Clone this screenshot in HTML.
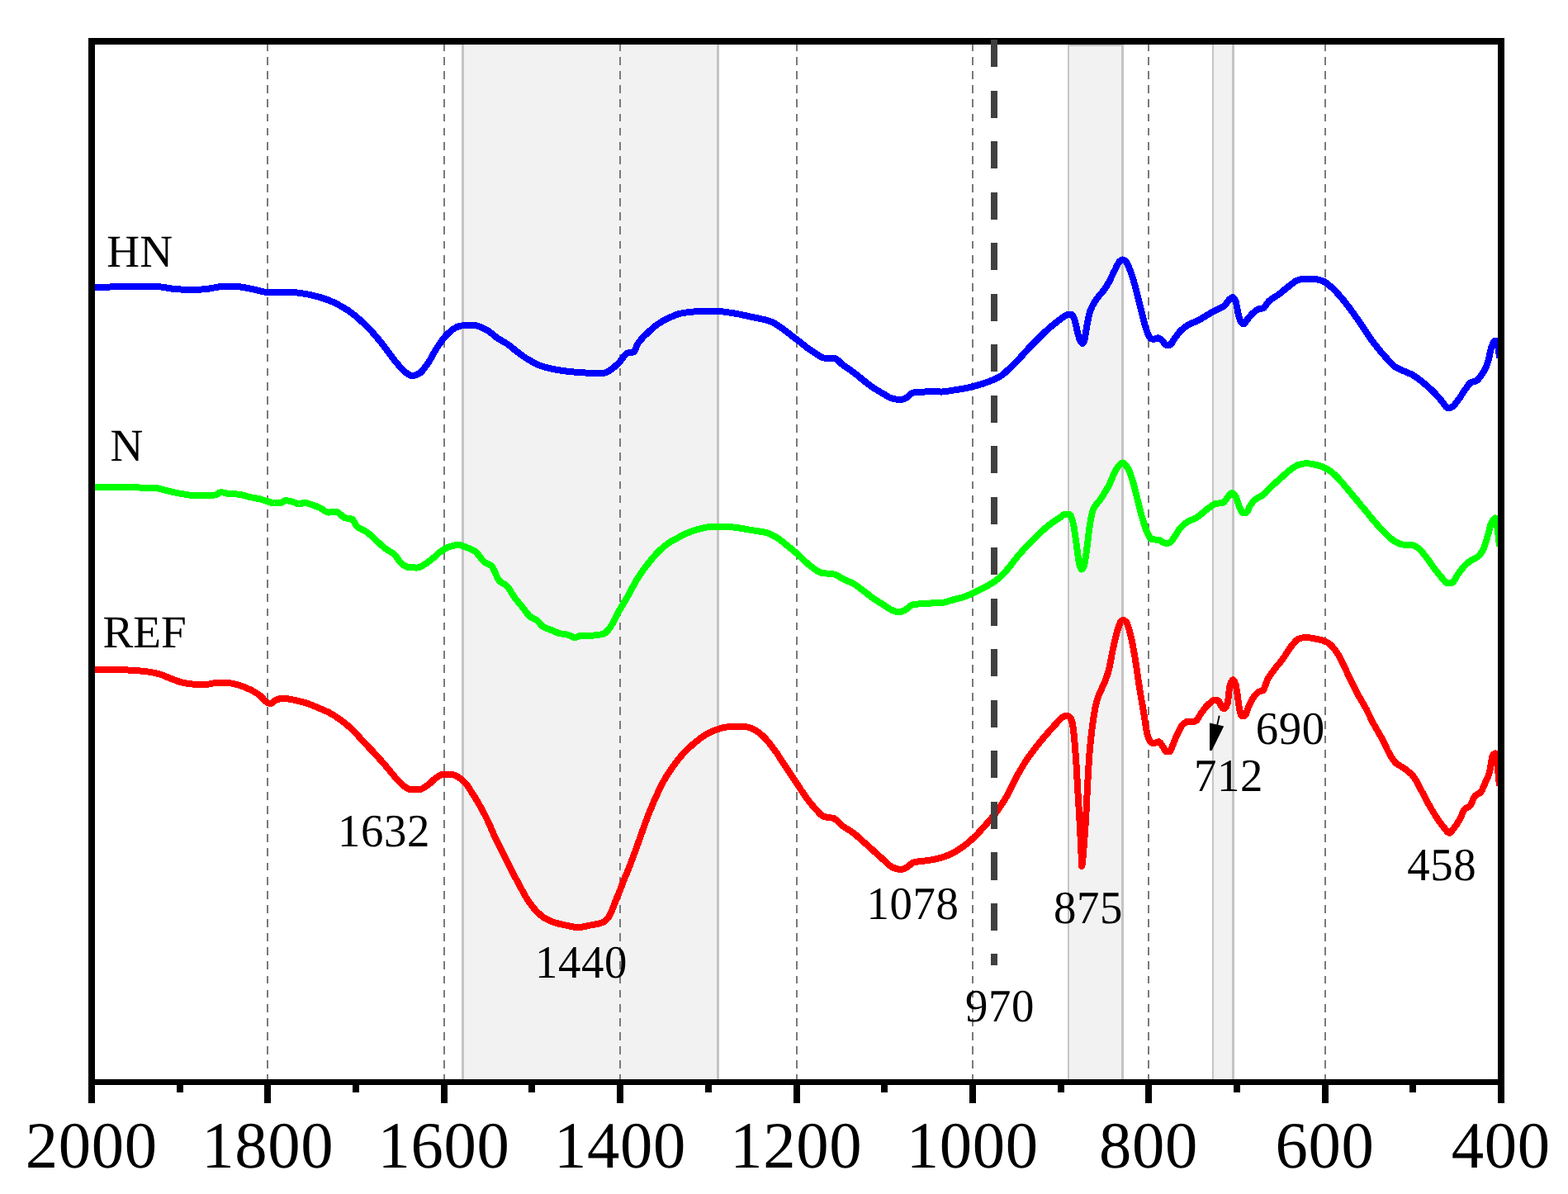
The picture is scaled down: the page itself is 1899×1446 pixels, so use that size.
<!DOCTYPE html>
<html lang="en"><head><meta charset="utf-8"><title>FTIR spectra</title>
<style>
html,body{margin:0;padding:0;background:#fff;}
body{width:1899px;height:1446px;overflow:hidden;}
svg{display:block;}
text{font-family:"Liberation Serif","Times New Roman",Times,serif;fill:#000;text-rendering:geometricPrecision;}
.tick{font-size:78.7px;letter-spacing:0.65px;}
.lab{font-size:54.8px;}
.num{letter-spacing:0.6px;}
</style></head><body>
<svg width="1899" height="1446" viewBox="0 0 1899 1446">
<rect x="0" y="0" width="1899" height="1446" fill="#fff"/>
<defs><clipPath id="plot"><rect x="111" y="50" width="1705" height="1260"/></clipPath></defs>

<g shape-rendering="crispEdges">
<rect x="562" y="55" width="306" height="1251" fill="#f2f2f2"/>
<rect x="559" y="54" width="3" height="1256" fill="#c4c4c4"/>
<rect x="868" y="54" width="3" height="1256" fill="#c4c4c4"/>
<rect x="1295" y="56" width="63" height="1250" fill="#f2f2f2"/>
<rect x="1293" y="54" width="2" height="1256" fill="#c4c4c4"/>
<rect x="1358" y="54" width="3" height="1256" fill="#c4c4c4"/>
<rect x="1293" y="54" width="68" height="2" fill="#c4c4c4"/>
<rect x="1470" y="55" width="22" height="1251" fill="#f2f2f2"/>
<rect x="1468" y="54" width="2" height="1256" fill="#c4c4c4"/>
<rect x="1492" y="54" width="3" height="1256" fill="#c4c4c4"/>
</g>
<g stroke="#7a7a7a" stroke-width="2" stroke-dasharray="9.8 7.314" fill="none" shape-rendering="crispEdges">
<line x1="324" y1="52" x2="324" y2="1308"/>
<line x1="538" y1="52" x2="538" y2="1308"/>
<line x1="751" y1="52" x2="751" y2="1308"/>
<line x1="965" y1="52" x2="965" y2="1308"/>
<line x1="1178" y1="52" x2="1178" y2="1308"/>
<line x1="1391" y1="52" x2="1391" y2="1308"/>
<line x1="1605" y1="52" x2="1605" y2="1308"/>
</g>
<g clip-path="url(#plot)" fill="none" stroke-width="8" stroke-linejoin="round" stroke-linecap="butt" shape-rendering="crispEdges">
<path d="M111.0,348.0 L113.0,348.0 L115.0,348.0 L117.0,348.0 L119.0,348.0 L121.0,347.9 L123.0,347.9 L125.0,347.8 L127.0,347.7 L129.0,347.6 L131.0,347.6 L133.0,347.5 L135.0,347.4 L137.0,347.3 L139.0,347.2 L141.0,347.2 L143.0,347.1 L145.0,347.1 L147.0,347.0 L149.0,347.0 L150.0,347.0 L151.0,347.0 L153.0,347.0 L155.0,347.0 L157.0,347.0 L159.0,347.0 L161.0,347.0 L163.0,347.0 L165.0,347.0 L167.0,347.0 L169.0,347.0 L171.0,347.0 L173.0,347.0 L175.0,347.0 L177.0,347.0 L179.0,347.0 L181.0,347.0 L183.0,347.0 L185.0,347.0 L187.0,347.0 L187.5,347.0 L189.0,347.0 L191.0,347.1 L193.0,347.3 L195.0,347.5 L197.0,347.8 L199.0,348.1 L201.0,348.4 L203.0,348.8 L205.0,349.1 L207.0,349.4 L209.0,349.7 L211.0,349.9 L212.5,350.0 L213.0,350.0 L215.0,350.2 L217.0,350.3 L219.0,350.5 L221.0,350.6 L223.0,350.7 L225.0,350.8 L227.0,350.9 L229.0,351.0 L231.0,351.0 L232.5,351.0 L233.0,351.0 L235.0,351.0 L237.0,350.9 L239.0,350.8 L241.0,350.7 L243.0,350.6 L245.0,350.4 L247.0,350.2 L249.0,350.1 L250.0,350.0 L251.0,349.9 L253.0,349.6 L255.0,349.3 L257.0,348.9 L259.0,348.5 L261.0,348.1 L263.0,347.7 L265.0,347.4 L267.0,347.2 L269.0,347.0 L270.0,347.0 L271.0,347.0 L273.0,347.0 L275.0,347.0 L277.0,347.0 L279.0,347.0 L281.0,347.0 L283.0,347.0 L285.0,347.0 L287.0,347.0 L289.0,347.2 L291.0,347.4 L293.0,347.7 L295.0,348.0 L297.0,348.4 L299.0,348.8 L301.0,349.2 L303.0,349.6 L305.0,350.0 L307.0,350.4 L307.5,350.5 L309.0,350.8 L311.0,351.3 L313.0,351.8 L315.0,352.3 L317.0,352.8 L319.0,353.3 L321.0,353.7 L323.0,353.9 L325.0,354.0 L327.0,354.0 L329.0,354.0 L331.0,354.0 L333.0,353.9 L335.0,353.9 L337.0,353.9 L339.0,353.9 L341.0,353.8 L343.0,353.8 L345.0,353.8 L347.0,353.8 L349.0,353.8 L350.0,353.8 L351.0,353.8 L353.0,353.8 L355.0,354.0 L357.0,354.1 L359.0,354.4 L361.0,354.6 L363.0,354.9 L365.0,355.2 L367.0,355.5 L369.0,355.8 L370.0,356.0 L371.0,356.2 L373.0,356.5 L375.0,356.9 L377.0,357.3 L379.0,357.8 L381.0,358.3 L383.0,358.8 L385.0,359.4 L387.0,359.9 L389.0,360.5 L391.0,361.2 L393.0,361.8 L395.0,362.5 L397.0,363.2 L399.0,364.0 L401.0,364.8 L403.0,365.7 L405.0,366.6 L407.0,367.6 L409.0,368.6 L411.0,369.7 L413.0,370.8 L415.0,372.0 L417.0,373.2 L419.0,374.4 L420.0,375.0 L421.0,375.6 L423.0,377.0 L425.0,378.4 L427.0,379.9 L429.0,381.5 L431.0,383.1 L433.0,384.8 L435.0,386.6 L437.0,388.4 L439.0,390.3 L441.0,392.1 L443.0,394.1 L445.0,396.0 L447.0,398.0 L449.0,400.1 L451.0,402.3 L453.0,404.6 L455.0,406.9 L457.0,409.3 L459.0,411.7 L461.0,414.2 L462.5,416.0 L463.0,416.6 L465.0,419.2 L467.0,421.8 L469.0,424.5 L471.0,427.2 L473.0,430.0 L475.0,432.7 L477.0,435.3 L479.0,437.8 L480.0,439.0 L481.0,440.2 L483.0,442.7 L485.0,445.1 L487.0,447.3 L489.0,449.2 L490.0,450.0 L491.0,450.8 L493.0,452.3 L495.0,453.7 L497.0,454.7 L498.8,455.0 L499.0,455.0 L501.0,454.8 L503.0,454.3 L505.0,453.6 L507.0,452.7 L507.5,452.5 L509.0,451.6 L511.0,449.7 L513.0,447.2 L515.0,444.5 L517.0,441.7 L517.5,441.0 L519.0,438.8 L521.0,435.5 L523.0,432.0 L525.0,428.4 L527.0,424.8 L529.0,421.5 L530.0,420.0 L531.0,418.5 L533.0,415.6 L535.0,412.8 L537.0,410.1 L539.0,407.6 L541.0,405.4 L542.5,404.0 L543.0,403.6 L545.0,401.8 L547.0,400.1 L549.0,398.6 L551.0,397.3 L553.0,396.2 L555.0,395.5 L557.0,395.0 L559.0,394.5 L561.0,394.1 L563.0,393.8 L565.0,393.6 L567.0,393.5 L567.5,393.5 L569.0,393.5 L571.0,393.6 L573.0,393.8 L575.0,394.0 L577.0,394.3 L579.0,394.9 L581.0,395.6 L583.0,396.4 L585.0,397.4 L587.0,398.4 L589.0,399.5 L590.0,400.0 L591.0,400.6 L593.0,401.9 L595.0,403.5 L597.0,405.2 L599.0,406.8 L601.0,408.4 L602.5,409.5 L603.0,409.8 L605.0,411.1 L607.0,412.2 L609.0,413.4 L611.0,414.5 L613.0,415.7 L615.0,417.0 L617.0,418.5 L619.0,420.0 L621.0,421.7 L623.0,423.4 L625.0,425.1 L627.0,426.6 L627.5,427.0 L629.0,428.1 L631.0,429.6 L633.0,431.0 L635.0,432.3 L637.0,433.7 L639.0,434.9 L640.0,435.5 L641.0,436.1 L643.0,437.2 L645.0,438.4 L647.0,439.4 L649.0,440.5 L651.0,441.4 L653.0,442.3 L655.0,443.0 L657.0,443.7 L659.0,444.3 L661.0,444.9 L663.0,445.4 L665.0,445.9 L667.0,446.4 L669.0,446.8 L671.0,447.2 L672.5,447.5 L673.0,447.6 L675.0,447.9 L677.0,448.3 L679.0,448.6 L681.0,448.9 L683.0,449.2 L685.0,449.4 L687.0,449.7 L689.0,449.9 L690.0,450.0 L691.0,450.1 L693.0,450.3 L695.0,450.5 L697.0,450.7 L699.0,450.9 L701.0,451.1 L703.0,451.2 L705.0,451.4 L707.0,451.4 L709.0,451.5 L710.0,451.5 L711.0,451.5 L713.0,451.5 L715.0,451.5 L717.0,451.5 L719.0,451.5 L721.0,451.5 L723.0,451.5 L725.0,451.5 L727.0,451.5 L729.0,451.5 L731.0,451.5 L732.5,451.5 L733.0,451.5 L735.0,450.8 L737.0,449.6 L739.0,448.2 L740.0,447.5 L741.0,446.8 L743.0,445.3 L745.0,443.5 L747.0,441.7 L749.0,439.7 L750.0,438.8 L751.0,437.7 L753.0,435.0 L755.0,432.2 L757.0,429.7 L759.0,428.0 L760.0,427.5 L761.0,427.3 L763.0,427.0 L765.0,426.8 L767.0,426.4 L767.5,426.2 L769.0,424.3 L771.0,419.4 L772.5,416.2 L773.0,415.5 L775.0,412.8 L777.0,410.4 L779.0,408.3 L781.0,406.3 L783.0,404.4 L785.0,402.5 L787.0,400.6 L789.0,398.8 L791.0,397.0 L793.0,395.4 L795.0,393.8 L797.0,392.3 L797.5,392.0 L799.0,391.0 L801.0,389.8 L803.0,388.6 L805.0,387.5 L807.0,386.4 L809.0,385.5 L810.0,385.0 L811.0,384.6 L813.0,383.7 L815.0,382.8 L817.0,382.0 L819.0,381.2 L821.0,380.5 L823.0,380.0 L825.0,379.5 L827.0,379.1 L829.0,378.8 L831.0,378.5 L833.0,378.2 L835.0,378.0 L837.0,377.8 L839.0,377.6 L840.0,377.5 L841.0,377.4 L843.0,377.2 L845.0,377.0 L847.0,376.9 L849.0,376.7 L851.0,376.6 L853.0,376.5 L855.0,376.5 L857.0,376.5 L859.0,376.5 L861.0,376.6 L863.0,376.7 L865.0,376.8 L867.0,376.8 L869.0,376.9 L870.0,377.0 L871.0,377.1 L873.0,377.2 L875.0,377.4 L877.0,377.6 L879.0,377.9 L881.0,378.2 L883.0,378.5 L885.0,378.8 L887.0,379.1 L889.0,379.4 L891.0,379.7 L893.0,380.1 L895.0,380.5 L897.0,380.9 L899.0,381.3 L901.0,381.8 L903.0,382.2 L905.0,382.6 L907.0,383.1 L909.0,383.5 L910.0,383.8 L911.0,384.0 L913.0,384.4 L915.0,384.8 L917.0,385.2 L919.0,385.6 L921.0,386.1 L923.0,386.5 L925.0,387.0 L927.0,387.5 L929.0,388.0 L931.0,388.6 L933.0,389.3 L935.0,390.0 L937.0,390.9 L939.0,392.1 L941.0,393.4 L943.0,394.9 L945.0,396.2 L947.0,397.6 L949.0,399.1 L951.0,400.5 L953.0,402.0 L955.0,403.6 L957.0,405.1 L959.0,406.7 L961.0,408.2 L963.0,409.7 L965.0,411.2 L967.0,412.8 L969.0,414.3 L971.0,415.9 L973.0,417.5 L975.0,419.1 L977.0,420.7 L979.0,422.2 L981.0,423.6 L983.0,425.0 L985.0,426.2 L987.0,427.5 L989.0,428.8 L991.0,430.2 L993.0,431.4 L995.0,432.5 L997.0,433.3 L999.0,433.7 L1000.0,433.8 L1001.0,433.8 L1003.0,433.8 L1005.0,433.8 L1007.0,433.8 L1009.0,433.8 L1010.0,433.8 L1011.0,433.9 L1013.0,434.9 L1015.0,436.6 L1017.0,438.6 L1019.0,440.5 L1020.0,441.2 L1021.0,442.0 L1023.0,443.4 L1025.0,444.7 L1027.0,446.1 L1029.0,447.5 L1031.0,448.9 L1032.5,450.0 L1033.0,450.4 L1035.0,451.9 L1037.0,453.5 L1039.0,455.2 L1041.0,456.8 L1043.0,458.4 L1045.0,460.0 L1047.0,461.6 L1049.0,463.2 L1051.0,464.7 L1053.0,466.3 L1055.0,467.8 L1057.0,469.2 L1057.5,469.5 L1059.0,470.5 L1061.0,471.7 L1063.0,473.0 L1065.0,474.1 L1067.0,475.3 L1069.0,476.4 L1070.0,477.0 L1071.0,477.6 L1073.0,478.9 L1075.0,480.2 L1077.0,481.3 L1079.0,482.2 L1080.0,482.5 L1081.0,482.7 L1083.0,483.2 L1085.0,483.5 L1087.0,483.8 L1089.0,484.0 L1090.0,484.0 L1091.0,483.9 L1093.0,483.6 L1095.0,483.0 L1097.0,482.2 L1097.5,482.0 L1099.0,481.1 L1101.0,479.2 L1103.0,477.3 L1105.0,475.8 L1106.0,475.5 L1107.0,475.4 L1109.0,475.2 L1111.0,475.0 L1113.0,474.9 L1115.0,474.8 L1117.0,474.7 L1119.0,474.6 L1120.0,474.5 L1121.0,474.4 L1123.0,474.2 L1125.0,474.0 L1127.0,473.9 L1129.0,473.8 L1130.0,473.8 L1131.0,473.8 L1133.0,473.9 L1135.0,474.1 L1137.0,474.3 L1139.0,474.5 L1140.0,474.5 L1141.0,474.5 L1143.0,474.4 L1145.0,474.1 L1147.0,473.9 L1149.0,473.5 L1151.0,473.2 L1153.0,472.8 L1155.0,472.5 L1157.0,472.2 L1159.0,471.9 L1161.0,471.6 L1163.0,471.3 L1165.0,470.9 L1167.0,470.6 L1169.0,470.2 L1170.0,470.0 L1171.0,469.8 L1173.0,469.4 L1175.0,468.9 L1177.0,468.4 L1179.0,467.9 L1181.0,467.4 L1183.0,466.8 L1185.0,466.2 L1187.0,465.7 L1189.0,465.1 L1191.0,464.5 L1193.0,463.8 L1195.0,463.1 L1197.0,462.4 L1199.0,461.6 L1200.0,461.2 L1201.0,460.8 L1203.0,460.0 L1205.0,459.1 L1207.0,458.1 L1209.0,457.1 L1211.0,455.9 L1212.5,455.0 L1213.0,454.7 L1215.0,453.2 L1217.0,451.4 L1219.0,449.6 L1221.0,447.7 L1222.5,446.2 L1223.0,445.8 L1225.0,443.9 L1227.0,441.9 L1229.0,439.9 L1231.0,437.9 L1233.0,435.8 L1235.0,433.8 L1237.0,431.6 L1239.0,429.4 L1241.0,427.2 L1243.0,424.9 L1245.0,422.7 L1247.0,420.5 L1247.5,420.0 L1249.0,418.4 L1251.0,416.4 L1253.0,414.4 L1255.0,412.4 L1257.0,410.4 L1259.0,408.5 L1260.0,407.5 L1261.0,406.5 L1263.0,404.6 L1265.0,402.6 L1267.0,400.7 L1269.0,398.9 L1270.0,398.0 L1271.0,397.1 L1273.0,395.4 L1275.0,393.8 L1277.0,392.2 L1279.0,390.6 L1281.0,389.1 L1282.5,388.0 L1283.0,387.6 L1285.0,386.0 L1287.0,384.4 L1289.0,382.9 L1291.0,381.8 L1292.5,381.2 L1293.0,381.1 L1295.0,380.7 L1297.0,380.5 L1297.5,380.5 L1299.0,381.7 L1301.0,385.7 L1301.2,386.2 L1303.0,393.1 L1305.0,402.5 L1307.0,409.5 L1308.8,413.8 L1309.0,414.1 L1311.0,416.2 L1311.2,416.2 L1313.0,412.6 L1313.8,410.0 L1315.0,403.1 L1316.2,395.0 L1317.0,391.0 L1319.0,381.1 L1320.0,377.5 L1321.0,374.8 L1323.0,370.5 L1325.0,367.0 L1326.2,365.0 L1327.0,363.8 L1329.0,361.0 L1331.0,358.4 L1333.0,356.1 L1335.0,353.7 L1337.0,351.3 L1339.0,348.5 L1340.0,347.0 L1341.0,345.3 L1343.0,341.6 L1345.0,337.6 L1347.0,333.5 L1349.0,329.4 L1350.0,327.5 L1351.0,325.5 L1353.0,321.3 L1355.0,317.7 L1356.2,316.2 L1357.0,315.7 L1359.0,314.6 L1359.5,314.5 L1361.0,314.9 L1363.0,316.3 L1363.8,317.0 L1365.0,318.7 L1367.0,323.0 L1368.8,327.5 L1369.0,328.1 L1371.0,333.9 L1373.0,340.5 L1375.0,347.5 L1377.0,355.1 L1379.0,363.3 L1381.0,371.5 L1381.2,372.5 L1383.0,379.7 L1385.0,387.9 L1386.2,392.5 L1387.0,395.0 L1389.0,401.3 L1390.0,403.8 L1391.0,405.9 L1393.0,409.4 L1393.8,410.0 L1395.0,410.4 L1397.0,410.7 L1397.5,410.8 L1399.0,410.4 L1401.0,409.6 L1402.5,409.2 L1403.0,409.3 L1405.0,410.4 L1407.0,412.1 L1407.5,412.5 L1409.0,414.3 L1411.0,417.1 L1412.5,418.0 L1413.0,418.0 L1415.0,418.0 L1416.2,418.0 L1417.0,417.8 L1419.0,415.6 L1421.0,412.3 L1422.5,410.0 L1423.0,409.4 L1425.0,406.7 L1427.0,404.0 L1429.0,401.5 L1430.0,400.5 L1431.0,399.6 L1433.0,397.8 L1435.0,396.2 L1437.0,394.8 L1439.0,393.6 L1440.0,393.0 L1441.0,392.5 L1443.0,391.6 L1445.0,390.8 L1447.0,390.1 L1449.0,389.2 L1450.0,388.8 L1451.0,388.2 L1453.0,387.1 L1455.0,385.9 L1457.0,384.6 L1459.0,383.4 L1461.0,382.1 L1462.5,381.2 L1463.0,381.0 L1465.0,379.8 L1467.0,378.7 L1469.0,377.7 L1471.0,376.6 L1473.0,375.5 L1474.0,375.0 L1475.0,374.5 L1477.0,373.6 L1479.0,372.7 L1481.0,371.7 L1482.8,370.5 L1483.0,370.3 L1485.0,367.9 L1487.0,364.9 L1489.0,362.5 L1491.0,360.8 L1492.8,360.0 L1493.0,360.0 L1495.0,362.1 L1496.5,365.0 L1497.0,366.4 L1499.0,376.5 L1500.2,382.5 L1501.0,385.2 L1502.8,390.0 L1503.0,390.3 L1505.0,392.2 L1506.0,392.5 L1507.0,392.0 L1509.0,389.3 L1510.2,387.5 L1511.0,386.6 L1513.0,384.0 L1515.0,381.6 L1516.5,380.0 L1517.0,379.5 L1519.0,377.8 L1521.0,376.2 L1523.0,374.9 L1524.0,374.5 L1525.0,374.2 L1527.0,373.8 L1529.0,373.4 L1530.2,373.0 L1531.0,372.5 L1533.0,370.0 L1535.0,366.9 L1536.5,365.0 L1537.0,364.5 L1539.0,362.9 L1541.0,361.5 L1543.0,360.2 L1545.0,358.9 L1547.0,357.7 L1549.0,356.2 L1551.0,354.7 L1553.0,353.1 L1555.0,351.4 L1557.0,349.8 L1559.0,348.2 L1561.0,346.6 L1561.5,346.2 L1563.0,345.1 L1565.0,343.5 L1567.0,342.0 L1569.0,340.6 L1571.0,339.7 L1571.5,339.5 L1573.0,339.0 L1575.0,338.5 L1577.0,338.0 L1579.0,337.7 L1581.0,337.5 L1581.5,337.5 L1583.0,337.5 L1585.0,337.6 L1587.0,337.7 L1589.0,337.8 L1591.0,338.0 L1593.0,338.1 L1594.0,338.2 L1595.0,338.4 L1597.0,338.8 L1599.0,339.3 L1601.0,340.0 L1603.0,340.8 L1604.0,341.2 L1605.0,341.8 L1607.0,343.1 L1609.0,344.8 L1611.0,346.6 L1611.5,347.0 L1613.0,348.3 L1615.0,350.2 L1617.0,352.2 L1619.0,354.3 L1621.0,356.5 L1621.5,357.0 L1623.0,358.7 L1625.0,361.0 L1627.0,363.5 L1629.0,366.0 L1631.0,368.6 L1633.0,371.2 L1634.0,372.5 L1635.0,373.8 L1637.0,376.5 L1639.0,379.3 L1641.0,382.1 L1643.0,385.0 L1645.0,387.8 L1646.5,390.0 L1647.0,390.7 L1649.0,393.7 L1651.0,396.8 L1653.0,399.8 L1655.0,402.9 L1657.0,405.9 L1659.0,408.8 L1661.0,411.5 L1663.0,414.2 L1665.0,416.8 L1667.0,419.4 L1669.0,421.9 L1671.0,424.4 L1671.5,425.0 L1673.0,426.8 L1675.0,429.1 L1677.0,431.4 L1679.0,433.6 L1681.0,435.7 L1681.5,436.2 L1683.0,437.9 L1685.0,440.1 L1687.0,442.1 L1689.0,443.8 L1691.0,445.0 L1693.0,446.0 L1695.0,446.9 L1697.0,447.8 L1699.0,448.8 L1701.0,449.7 L1703.0,450.5 L1705.0,451.4 L1707.0,452.3 L1709.0,453.2 L1711.0,454.2 L1711.5,454.5 L1713.0,455.4 L1715.0,456.7 L1717.0,458.2 L1719.0,459.7 L1721.0,461.3 L1723.0,462.9 L1724.0,463.8 L1725.0,464.6 L1727.0,466.2 L1729.0,468.0 L1731.0,469.8 L1733.0,471.6 L1735.0,473.5 L1736.5,475.0 L1737.0,475.5 L1739.0,477.6 L1741.0,479.9 L1743.0,482.2 L1745.0,484.6 L1746.5,486.2 L1747.0,486.8 L1749.0,489.6 L1751.0,492.4 L1753.0,494.2 L1754.0,494.5 L1755.0,494.4 L1757.0,493.6 L1759.0,492.5 L1761.0,490.9 L1763.0,488.5 L1765.0,485.8 L1766.5,483.8 L1767.0,483.1 L1769.0,480.1 L1771.0,477.0 L1773.0,473.9 L1774.0,472.5 L1775.0,471.1 L1777.0,468.1 L1779.0,465.5 L1781.0,463.5 L1781.5,463.2 L1783.0,462.7 L1785.0,462.2 L1787.0,461.6 L1787.8,461.2 L1789.0,460.4 L1791.0,458.4 L1793.0,455.8 L1795.0,452.9 L1795.2,452.5 L1797.0,449.7 L1799.0,445.9 L1801.0,441.3 L1801.5,440.0 L1803.0,434.5 L1805.0,425.4 L1806.5,420.0 L1807.0,418.6 L1809.0,413.7 L1810.2,412.5 L1811.0,412.5 L1812.8,412.5 L1813.0,412.7 L1815.0,424.2 L1816.0,434.0" stroke="#0000ff"/>
<path d="M111.0,589.5 L113.0,589.5 L115.0,589.5 L117.0,589.5 L119.0,589.5 L121.0,589.5 L123.0,589.5 L125.0,589.5 L127.0,589.5 L129.0,589.5 L131.0,589.5 L133.0,589.5 L135.0,589.5 L137.0,589.5 L139.0,589.5 L141.0,589.5 L143.0,589.5 L145.0,589.5 L147.0,589.5 L149.0,589.5 L150.0,589.5 L151.0,589.5 L153.0,589.5 L155.0,589.6 L157.0,589.7 L159.0,589.8 L161.0,590.0 L163.0,590.1 L165.0,590.2 L167.0,590.4 L169.0,590.5 L170.0,590.5 L171.0,590.5 L173.0,590.6 L175.0,590.6 L177.0,590.7 L179.0,590.7 L181.0,590.8 L183.0,590.8 L185.0,590.9 L187.0,591.0 L187.5,591.0 L189.0,591.1 L191.0,591.4 L193.0,591.8 L195.0,592.3 L197.0,592.9 L199.0,593.4 L201.0,594.0 L203.0,594.5 L205.0,595.0 L207.0,595.4 L209.0,595.9 L211.0,596.3 L213.0,596.7 L215.0,597.1 L217.0,597.5 L219.0,597.8 L220.0,598.0 L221.0,598.2 L223.0,598.5 L225.0,598.9 L227.0,599.2 L229.0,599.5 L231.0,599.8 L233.0,599.9 L235.0,600.0 L237.0,600.0 L239.0,599.9 L241.0,599.8 L243.0,599.7 L245.0,599.6 L247.0,599.6 L249.0,599.5 L250.0,599.5 L251.0,599.5 L253.0,599.5 L255.0,599.5 L257.0,599.5 L259.0,599.5 L260.0,599.5 L261.0,599.3 L263.0,598.4 L265.0,597.1 L267.0,596.3 L267.5,596.2 L269.0,596.3 L271.0,596.7 L273.0,597.1 L275.0,597.6 L277.0,597.9 L277.5,598.0 L279.0,598.1 L281.0,598.2 L283.0,598.3 L285.0,598.4 L287.0,598.5 L289.0,598.7 L290.0,598.8 L291.0,598.9 L293.0,599.3 L295.0,599.8 L297.0,600.4 L299.0,601.0 L301.0,601.6 L302.5,602.0 L303.0,602.1 L305.0,602.5 L307.0,602.9 L309.0,603.3 L311.0,603.6 L313.0,604.0 L315.0,604.5 L317.0,605.0 L319.0,605.6 L321.0,606.3 L323.0,606.9 L325.0,607.5 L327.0,608.2 L329.0,608.8 L331.0,609.4 L332.5,609.5 L333.0,609.5 L335.0,609.4 L337.0,609.2 L339.0,608.9 L340.0,608.8 L341.0,608.5 L343.0,607.4 L345.0,606.5 L346.2,606.2 L347.0,606.3 L349.0,606.5 L351.0,606.9 L353.0,607.5 L355.0,608.0 L357.0,608.7 L359.0,609.6 L361.0,610.3 L362.5,610.5 L363.0,610.5 L365.0,609.9 L367.0,609.1 L368.8,608.8 L369.0,608.8 L371.0,609.0 L373.0,609.6 L375.0,610.3 L377.0,611.1 L377.5,611.2 L379.0,611.7 L381.0,612.4 L383.0,613.2 L385.0,613.9 L387.0,614.8 L387.5,615.0 L389.0,615.8 L391.0,617.2 L393.0,618.7 L395.0,619.8 L397.0,620.5 L397.5,620.5 L399.0,620.5 L401.0,620.4 L403.0,620.2 L405.0,620.1 L407.0,620.0 L407.5,620.0 L409.0,620.4 L411.0,621.7 L413.0,623.6 L415.0,625.5 L417.0,626.8 L417.5,627.0 L419.0,627.4 L421.0,627.7 L423.0,628.0 L425.0,628.4 L426.2,628.8 L427.0,629.2 L429.0,632.1 L431.0,635.6 L432.5,637.5 L433.0,637.9 L435.0,639.4 L437.0,640.6 L439.0,641.6 L441.0,642.6 L443.0,643.7 L445.0,645.0 L447.0,646.5 L449.0,648.3 L451.0,650.1 L453.0,652.0 L455.0,653.9 L457.0,655.8 L457.5,656.2 L459.0,657.6 L461.0,659.4 L463.0,661.3 L465.0,663.0 L467.0,664.6 L467.5,665.0 L469.0,666.0 L471.0,667.2 L473.0,668.3 L475.0,669.4 L477.0,670.8 L477.5,671.2 L479.0,672.8 L481.0,675.7 L483.0,678.7 L485.0,681.3 L486.2,682.5 L487.0,683.0 L489.0,684.4 L491.0,685.7 L493.0,686.6 L495.0,687.0 L497.0,687.2 L499.0,687.3 L501.0,687.4 L503.0,687.5 L505.0,687.5 L507.0,687.2 L509.0,686.5 L511.0,685.4 L513.0,684.2 L515.0,683.0 L517.0,681.8 L519.0,680.3 L521.0,678.7 L523.0,677.1 L525.0,675.5 L527.0,673.8 L529.0,672.0 L531.0,670.1 L533.0,668.4 L535.0,667.0 L537.0,665.8 L539.0,664.6 L541.0,663.6 L543.0,662.7 L545.0,662.0 L547.0,661.4 L549.0,660.9 L551.0,660.4 L553.0,660.1 L555.0,660.0 L557.0,660.2 L559.0,660.7 L561.0,661.4 L563.0,662.2 L565.0,663.0 L567.0,663.7 L569.0,664.5 L571.0,665.4 L573.0,666.3 L575.0,667.5 L577.0,669.2 L579.0,671.4 L581.0,674.0 L583.0,676.6 L585.0,679.0 L587.0,680.9 L587.5,681.2 L589.0,682.1 L591.0,682.9 L593.0,683.8 L595.0,685.0 L597.0,687.6 L599.0,691.8 L601.0,696.5 L603.0,700.8 L605.0,703.8 L607.0,705.3 L609.0,706.5 L611.0,707.5 L613.0,708.9 L613.8,709.5 L615.0,710.8 L617.0,713.7 L619.0,717.0 L621.0,720.3 L622.5,722.5 L623.0,723.2 L625.0,725.8 L627.0,728.3 L629.0,730.8 L631.0,733.2 L632.5,735.0 L633.0,735.6 L635.0,738.2 L637.0,740.9 L639.0,743.5 L641.0,745.7 L642.5,747.0 L643.0,747.4 L645.0,748.5 L647.0,749.5 L649.0,750.6 L650.0,751.2 L651.0,752.1 L653.0,754.2 L655.0,756.5 L657.0,758.4 L657.5,758.8 L659.0,759.6 L661.0,760.5 L663.0,761.3 L665.0,762.0 L667.0,762.8 L667.5,763.0 L669.0,763.6 L671.0,764.5 L673.0,765.4 L675.0,766.2 L677.0,766.9 L677.5,767.0 L679.0,767.3 L681.0,767.7 L683.0,768.0 L685.0,768.3 L687.0,768.6 L687.5,768.8 L689.0,769.3 L691.0,770.2 L693.0,771.2 L695.0,771.9 L696.2,772.0 L697.0,771.9 L699.0,771.4 L701.0,770.6 L703.0,769.8 L705.0,769.5 L707.0,769.5 L709.0,769.5 L711.0,769.5 L713.0,769.5 L715.0,769.5 L717.0,769.5 L717.5,769.5 L719.0,769.5 L721.0,769.4 L723.0,769.2 L725.0,768.9 L727.0,768.5 L729.0,768.1 L731.0,767.6 L731.2,767.5 L733.0,766.6 L735.0,764.7 L737.0,762.3 L738.8,760.0 L739.0,759.7 L741.0,756.5 L743.0,752.7 L745.0,748.6 L747.0,744.7 L747.5,743.8 L749.0,741.1 L751.0,737.7 L753.0,734.3 L755.0,731.0 L757.0,727.6 L759.0,724.2 L760.0,722.5 L761.0,720.7 L763.0,717.1 L765.0,713.3 L767.0,709.6 L769.0,705.9 L771.0,702.4 L772.5,700.0 L773.0,699.2 L775.0,696.2 L777.0,693.2 L779.0,690.4 L781.0,687.7 L783.0,685.1 L785.0,682.5 L787.0,680.0 L789.0,677.5 L791.0,675.1 L793.0,672.8 L795.0,670.6 L797.0,668.5 L797.5,668.0 L799.0,666.6 L801.0,664.7 L803.0,662.9 L805.0,661.2 L807.0,659.7 L809.0,658.2 L810.0,657.5 L811.0,656.8 L813.0,655.6 L815.0,654.4 L817.0,653.4 L819.0,652.3 L821.0,651.3 L822.5,650.5 L823.0,650.2 L825.0,649.2 L827.0,648.2 L829.0,647.2 L831.0,646.2 L833.0,645.3 L835.0,644.5 L837.0,643.7 L839.0,643.0 L841.0,642.4 L843.0,641.7 L845.0,641.2 L847.0,640.6 L847.5,640.5 L849.0,640.1 L851.0,639.6 L853.0,639.1 L855.0,638.7 L857.0,638.3 L859.0,638.1 L860.0,638.0 L861.0,637.9 L863.0,637.8 L865.0,637.7 L867.0,637.7 L869.0,637.6 L871.0,637.5 L873.0,637.5 L875.0,637.5 L877.0,637.5 L879.0,637.6 L881.0,637.8 L883.0,638.0 L885.0,638.2 L887.0,638.4 L889.0,638.6 L890.0,638.8 L891.0,638.9 L893.0,639.1 L895.0,639.4 L897.0,639.7 L899.0,640.1 L901.0,640.4 L903.0,640.8 L905.0,641.1 L907.0,641.5 L909.0,641.8 L910.0,642.0 L911.0,642.2 L913.0,642.5 L915.0,642.8 L917.0,643.1 L919.0,643.4 L921.0,643.7 L923.0,644.0 L925.0,644.4 L927.0,644.9 L927.5,645.0 L929.0,645.4 L931.0,646.1 L933.0,646.9 L935.0,647.9 L937.0,648.9 L939.0,649.9 L940.0,650.5 L941.0,651.1 L943.0,652.4 L945.0,653.9 L947.0,655.5 L949.0,657.1 L951.0,658.8 L952.5,660.0 L953.0,660.4 L955.0,662.0 L957.0,663.6 L959.0,665.3 L961.0,666.9 L963.0,668.6 L965.0,670.3 L967.0,672.1 L967.5,672.5 L969.0,673.8 L971.0,675.7 L973.0,677.7 L975.0,679.7 L977.0,681.6 L979.0,683.4 L981.0,685.1 L982.5,686.2 L983.0,686.6 L985.0,688.1 L987.0,689.6 L989.0,691.0 L991.0,692.2 L993.0,693.1 L995.0,693.8 L997.0,694.1 L999.0,694.3 L1001.0,694.5 L1003.0,694.7 L1005.0,694.8 L1007.0,695.0 L1009.0,695.3 L1010.0,695.5 L1011.0,695.7 L1013.0,696.5 L1015.0,697.6 L1017.0,698.8 L1019.0,700.0 L1021.0,701.2 L1022.5,702.0 L1023.0,702.2 L1025.0,703.1 L1027.0,703.9 L1029.0,704.6 L1031.0,705.5 L1032.5,706.2 L1033.0,706.5 L1035.0,707.7 L1037.0,709.0 L1039.0,710.5 L1041.0,712.0 L1043.0,713.5 L1045.0,715.0 L1047.0,716.5 L1049.0,718.0 L1051.0,719.6 L1053.0,721.2 L1055.0,722.7 L1057.0,724.1 L1057.5,724.5 L1059.0,725.5 L1061.0,726.8 L1063.0,728.1 L1065.0,729.4 L1067.0,730.6 L1069.0,731.9 L1070.0,732.5 L1071.0,733.2 L1073.0,734.5 L1075.0,735.9 L1077.0,737.2 L1079.0,738.3 L1080.0,738.8 L1081.0,739.1 L1083.0,739.9 L1085.0,740.6 L1087.0,741.1 L1088.8,741.2 L1089.0,741.2 L1091.0,740.9 L1093.0,740.2 L1095.0,739.3 L1096.2,738.8 L1097.0,738.4 L1099.0,736.8 L1101.0,735.0 L1103.0,733.4 L1105.0,732.5 L1107.0,732.1 L1109.0,731.8 L1111.0,731.6 L1113.0,731.4 L1115.0,731.2 L1117.0,731.1 L1119.0,731.0 L1121.0,730.8 L1123.0,730.7 L1125.0,730.6 L1127.0,730.5 L1127.5,730.5 L1129.0,730.4 L1131.0,730.4 L1133.0,730.3 L1135.0,730.2 L1137.0,730.2 L1139.0,730.1 L1140.0,730.0 L1141.0,729.9 L1143.0,729.6 L1145.0,729.2 L1147.0,728.6 L1149.0,728.0 L1151.0,727.4 L1153.0,726.8 L1155.0,726.2 L1157.0,725.7 L1159.0,725.2 L1161.0,724.7 L1163.0,724.2 L1165.0,723.6 L1167.0,723.0 L1169.0,722.3 L1170.0,722.0 L1171.0,721.6 L1173.0,720.8 L1175.0,720.0 L1177.0,719.0 L1179.0,718.0 L1181.0,717.0 L1183.0,716.0 L1185.0,715.0 L1187.0,714.0 L1189.0,713.0 L1191.0,712.0 L1193.0,710.9 L1195.0,709.9 L1197.0,708.8 L1199.0,707.6 L1200.0,707.0 L1201.0,706.4 L1203.0,705.1 L1205.0,703.8 L1207.0,702.4 L1209.0,700.8 L1210.0,700.0 L1211.0,699.1 L1213.0,697.2 L1215.0,695.1 L1217.0,692.9 L1219.0,690.6 L1220.0,689.5 L1221.0,688.3 L1223.0,685.9 L1225.0,683.3 L1227.0,680.7 L1229.0,678.1 L1231.0,675.6 L1232.5,673.8 L1233.0,673.2 L1235.0,670.9 L1237.0,668.6 L1239.0,666.4 L1241.0,664.2 L1243.0,662.1 L1245.0,660.0 L1247.0,657.9 L1249.0,655.9 L1251.0,653.8 L1253.0,651.9 L1255.0,649.9 L1257.0,648.0 L1257.5,647.5 L1259.0,646.1 L1261.0,644.2 L1263.0,642.3 L1265.0,640.5 L1267.0,638.7 L1269.0,637.1 L1270.0,636.2 L1271.0,635.5 L1273.0,634.0 L1275.0,632.5 L1277.0,631.1 L1279.0,629.8 L1281.0,628.4 L1282.5,627.5 L1283.0,627.2 L1285.0,625.7 L1287.0,624.2 L1289.0,623.1 L1291.0,622.5 L1291.2,622.5 L1293.0,622.7 L1295.0,623.2 L1296.2,623.8 L1297.0,624.7 L1299.0,630.9 L1300.0,635.0 L1301.0,640.3 L1303.0,654.6 L1303.8,660.0 L1305.0,669.6 L1307.0,682.5 L1309.0,688.5 L1310.0,689.5 L1311.0,688.9 L1313.0,685.0 L1315.0,674.2 L1316.2,665.0 L1317.0,659.3 L1319.0,642.1 L1320.0,635.0 L1321.0,629.2 L1323.0,619.7 L1323.8,617.5 L1325.0,614.9 L1327.0,611.7 L1329.0,609.3 L1331.0,607.0 L1332.5,605.0 L1333.0,604.2 L1335.0,601.2 L1337.0,598.1 L1339.0,594.8 L1341.0,591.4 L1342.5,588.8 L1343.0,587.8 L1345.0,583.5 L1347.0,578.7 L1349.0,574.0 L1351.0,569.9 L1352.5,567.5 L1353.0,566.8 L1355.0,564.1 L1357.0,561.8 L1359.0,560.6 L1359.5,560.5 L1361.0,561.0 L1363.0,562.9 L1365.0,565.6 L1366.2,567.5 L1367.0,568.8 L1369.0,573.8 L1371.0,580.0 L1372.5,585.0 L1373.0,586.7 L1375.0,594.5 L1377.0,602.9 L1378.8,610.0 L1379.0,610.9 L1381.0,618.5 L1383.0,625.8 L1385.0,632.5 L1387.0,638.7 L1389.0,644.1 L1390.0,646.2 L1391.0,648.1 L1393.0,651.6 L1395.0,653.2 L1397.0,653.4 L1399.0,653.5 L1401.0,653.6 L1403.0,653.7 L1403.8,653.8 L1405.0,654.2 L1407.0,655.8 L1409.0,657.3 L1410.0,657.5 L1411.0,657.5 L1413.0,657.5 L1415.0,657.5 L1416.2,657.5 L1417.0,657.3 L1419.0,655.3 L1421.0,652.2 L1422.5,650.0 L1423.0,649.3 L1425.0,646.2 L1427.0,642.9 L1429.0,639.9 L1430.0,638.8 L1431.0,637.7 L1433.0,635.9 L1435.0,634.2 L1437.0,632.8 L1437.5,632.5 L1439.0,631.6 L1441.0,630.6 L1443.0,629.7 L1445.0,628.8 L1447.0,627.9 L1449.0,626.8 L1450.0,626.2 L1451.0,625.6 L1453.0,624.1 L1455.0,622.5 L1457.0,620.7 L1459.0,619.0 L1461.0,617.4 L1462.5,616.2 L1463.0,615.9 L1465.0,614.4 L1467.0,612.9 L1469.0,611.5 L1471.0,610.5 L1472.5,610.0 L1473.0,609.9 L1475.0,609.6 L1477.0,609.4 L1479.0,609.2 L1481.0,608.8 L1481.2,608.8 L1483.0,607.4 L1485.0,604.7 L1487.0,601.8 L1487.5,601.2 L1489.0,599.4 L1491.0,597.4 L1492.0,597.0 L1493.0,597.3 L1495.0,599.2 L1496.5,601.2 L1497.0,602.1 L1499.0,607.7 L1501.0,613.8 L1501.5,615.0 L1503.0,618.3 L1505.0,621.2 L1505.2,621.2 L1507.0,621.2 L1509.0,621.2 L1511.0,618.9 L1513.0,614.3 L1514.0,612.5 L1515.0,611.1 L1517.0,608.4 L1519.0,606.1 L1520.2,605.0 L1521.0,604.4 L1523.0,603.2 L1525.0,602.2 L1527.0,601.2 L1529.0,600.0 L1531.0,598.3 L1533.0,596.4 L1535.0,594.2 L1537.0,592.0 L1539.0,590.0 L1541.0,588.1 L1543.0,586.3 L1545.0,584.5 L1547.0,582.7 L1549.0,580.9 L1551.0,579.2 L1551.5,578.8 L1553.0,577.4 L1555.0,575.6 L1557.0,573.7 L1559.0,571.9 L1561.0,570.2 L1563.0,568.7 L1564.0,568.0 L1565.0,567.3 L1567.0,566.0 L1569.0,564.7 L1571.0,563.6 L1573.0,562.8 L1574.0,562.5 L1575.0,562.3 L1577.0,561.9 L1579.0,561.5 L1581.0,561.3 L1582.8,561.2 L1583.0,561.3 L1585.0,561.4 L1587.0,561.6 L1589.0,561.9 L1591.0,562.3 L1593.0,562.8 L1594.0,563.0 L1595.0,563.2 L1597.0,563.8 L1599.0,564.4 L1601.0,565.1 L1603.0,565.9 L1605.0,566.8 L1606.5,567.5 L1607.0,567.8 L1609.0,568.9 L1611.0,570.4 L1613.0,572.0 L1615.0,573.7 L1616.5,575.0 L1617.0,575.5 L1619.0,577.4 L1621.0,579.5 L1623.0,581.8 L1625.0,584.1 L1627.0,586.4 L1629.0,588.8 L1631.0,591.1 L1633.0,593.5 L1635.0,595.9 L1637.0,598.3 L1639.0,600.7 L1641.0,603.1 L1641.5,603.8 L1643.0,605.5 L1645.0,608.0 L1647.0,610.4 L1649.0,612.8 L1651.0,615.1 L1653.0,617.5 L1654.0,618.8 L1655.0,620.0 L1657.0,622.4 L1659.0,624.8 L1661.0,627.3 L1663.0,629.7 L1665.0,632.0 L1666.5,633.8 L1667.0,634.3 L1669.0,636.6 L1671.0,638.8 L1673.0,640.9 L1675.0,643.0 L1677.0,645.1 L1679.0,647.0 L1681.0,648.9 L1683.0,650.8 L1685.0,652.6 L1687.0,654.2 L1689.0,655.5 L1691.0,656.6 L1693.0,657.6 L1695.0,658.5 L1697.0,659.1 L1699.0,659.5 L1701.0,659.6 L1703.0,659.7 L1705.0,659.8 L1707.0,659.9 L1709.0,660.0 L1711.0,660.4 L1713.0,661.1 L1715.0,662.1 L1717.0,663.3 L1717.8,663.8 L1719.0,664.7 L1721.0,666.7 L1723.0,669.2 L1725.0,671.8 L1726.5,673.8 L1727.0,674.4 L1729.0,677.0 L1731.0,679.8 L1733.0,682.7 L1735.0,685.5 L1736.5,687.5 L1737.0,688.2 L1739.0,690.8 L1741.0,693.4 L1743.0,695.9 L1745.0,698.3 L1746.5,700.0 L1747.0,700.6 L1749.0,703.2 L1751.0,705.4 L1752.8,706.2 L1753.0,706.2 L1755.0,706.2 L1757.0,706.2 L1757.8,706.2 L1759.0,705.7 L1761.0,703.3 L1763.0,699.9 L1765.0,696.6 L1765.2,696.2 L1767.0,693.9 L1769.0,691.1 L1771.0,688.5 L1773.0,686.1 L1774.0,685.0 L1775.0,684.0 L1777.0,682.2 L1779.0,680.6 L1781.0,679.1 L1781.5,678.8 L1783.0,677.8 L1785.0,676.8 L1787.0,675.9 L1789.0,674.7 L1790.2,673.8 L1791.0,673.1 L1793.0,670.8 L1795.0,667.7 L1796.5,665.0 L1797.0,663.9 L1799.0,658.3 L1801.0,651.6 L1801.5,650.0 L1803.0,644.4 L1805.0,636.5 L1806.5,632.5 L1807.0,631.7 L1809.0,628.8 L1811.0,627.5 L1813.0,636.7 L1813.5,640.0 L1815.0,651.9 L1816.0,662.0" stroke="#00ff00"/>
<path d="M111.0,810.5 L113.0,810.5 L115.0,810.5 L117.0,810.5 L119.0,810.5 L121.0,810.5 L123.0,810.6 L125.0,810.6 L127.0,810.6 L129.0,810.7 L131.0,810.7 L133.0,810.7 L135.0,810.8 L137.0,810.8 L139.0,810.9 L141.0,811.0 L143.0,811.0 L145.0,811.1 L147.0,811.1 L149.0,811.2 L150.0,811.2 L151.0,811.3 L153.0,811.4 L155.0,811.5 L157.0,811.6 L159.0,811.7 L161.0,811.8 L163.0,811.9 L165.0,812.1 L167.0,812.2 L169.0,812.4 L171.0,812.6 L173.0,812.8 L175.0,813.0 L177.0,813.2 L179.0,813.5 L181.0,813.8 L183.0,814.2 L185.0,814.5 L187.0,815.0 L189.0,815.4 L191.0,815.9 L192.5,816.2 L193.0,816.4 L195.0,817.0 L197.0,817.7 L199.0,818.5 L201.0,819.4 L203.0,820.2 L205.0,821.0 L207.0,821.8 L207.5,822.0 L209.0,822.5 L211.0,823.3 L213.0,824.1 L215.0,824.8 L217.0,825.6 L219.0,826.2 L221.0,826.7 L222.5,827.0 L223.0,827.1 L225.0,827.4 L227.0,827.8 L229.0,828.1 L231.0,828.3 L233.0,828.5 L235.0,828.7 L237.0,828.7 L237.5,828.8 L239.0,828.8 L241.0,828.8 L243.0,828.8 L245.0,828.8 L247.0,828.8 L249.0,828.8 L250.0,828.8 L251.0,828.7 L253.0,828.5 L255.0,828.1 L257.0,827.7 L259.0,827.3 L261.0,827.1 L262.5,827.0 L263.0,827.0 L265.0,827.0 L267.0,827.0 L269.0,827.0 L271.0,827.0 L273.0,827.0 L275.0,827.0 L277.0,827.1 L279.0,827.3 L281.0,827.7 L283.0,828.1 L285.0,828.6 L287.0,829.2 L289.0,829.7 L290.0,830.0 L291.0,830.3 L293.0,830.9 L295.0,831.7 L297.0,832.5 L299.0,833.3 L301.0,834.3 L303.0,835.2 L305.0,836.2 L307.0,837.3 L309.0,838.4 L311.0,839.7 L313.0,841.0 L315.0,842.5 L317.0,844.4 L319.0,846.7 L321.0,848.9 L322.5,850.0 L323.0,850.3 L325.0,851.3 L327.0,852.0 L327.5,852.0 L329.0,851.5 L331.0,850.0 L333.0,848.4 L333.8,848.0 L335.0,847.5 L337.0,846.8 L339.0,846.2 L341.0,845.8 L342.5,845.8 L343.0,845.8 L345.0,845.9 L347.0,846.1 L349.0,846.4 L351.0,846.7 L353.0,847.1 L355.0,847.5 L357.0,847.9 L359.0,848.3 L361.0,848.8 L363.0,849.3 L365.0,849.8 L367.0,850.4 L369.0,850.9 L370.0,851.2 L371.0,851.6 L373.0,852.2 L375.0,853.0 L377.0,853.7 L379.0,854.5 L381.0,855.3 L383.0,856.2 L385.0,857.0 L387.0,857.8 L389.0,858.7 L391.0,859.5 L393.0,860.4 L395.0,861.3 L397.0,862.2 L399.0,863.2 L400.0,863.8 L401.0,864.3 L403.0,865.5 L405.0,866.7 L407.0,868.0 L409.0,869.4 L411.0,870.8 L413.0,872.3 L415.0,873.8 L417.0,875.3 L419.0,876.9 L421.0,878.6 L423.0,880.3 L425.0,882.2 L427.0,884.0 L427.5,884.5 L429.0,886.0 L431.0,888.1 L433.0,890.2 L435.0,892.5 L437.0,894.7 L439.0,896.9 L440.0,898.0 L441.0,899.1 L443.0,901.2 L445.0,903.3 L447.0,905.4 L449.0,907.5 L451.0,909.6 L452.5,911.2 L453.0,911.8 L455.0,913.9 L457.0,916.1 L459.0,918.3 L461.0,920.5 L463.0,922.7 L465.0,925.0 L467.0,927.3 L469.0,929.8 L471.0,932.2 L473.0,934.7 L475.0,937.1 L477.0,939.4 L477.5,940.0 L479.0,941.7 L481.0,944.0 L483.0,946.3 L485.0,948.3 L487.0,950.1 L487.5,950.5 L489.0,951.7 L491.0,953.2 L493.0,954.6 L495.0,955.7 L497.0,956.2 L497.5,956.2 L499.0,956.2 L501.0,956.2 L503.0,956.2 L505.0,956.2 L507.0,956.2 L507.5,956.2 L509.0,956.1 L511.0,955.3 L513.0,954.2 L515.0,952.9 L517.0,951.6 L517.5,951.2 L519.0,950.2 L521.0,948.4 L523.0,946.4 L525.0,944.5 L527.0,942.8 L527.5,942.5 L529.0,941.5 L531.0,940.2 L533.0,939.0 L535.0,938.2 L536.2,938.0 L537.0,937.9 L539.0,937.7 L541.0,937.6 L543.0,937.5 L545.0,937.5 L547.0,937.7 L549.0,938.3 L551.0,939.2 L553.0,940.2 L555.0,941.2 L557.0,942.5 L559.0,944.0 L561.0,945.8 L563.0,947.8 L565.0,950.0 L567.0,952.7 L569.0,955.9 L570.0,957.5 L571.0,959.1 L573.0,962.2 L575.0,965.4 L577.0,968.7 L579.0,972.0 L580.0,973.8 L581.0,975.5 L583.0,979.1 L585.0,982.7 L587.0,986.5 L589.0,990.5 L590.0,992.5 L591.0,994.6 L593.0,999.0 L595.0,1003.7 L597.0,1008.3 L599.0,1012.8 L600.0,1015.0 L601.0,1017.1 L603.0,1021.2 L605.0,1025.1 L607.0,1029.1 L609.0,1033.0 L610.0,1035.0 L611.0,1037.0 L613.0,1041.0 L615.0,1045.1 L617.0,1049.1 L619.0,1053.1 L620.0,1055.0 L621.0,1056.9 L623.0,1060.8 L625.0,1064.5 L627.0,1068.3 L629.0,1071.9 L630.0,1073.8 L631.0,1075.6 L633.0,1079.3 L635.0,1082.9 L637.0,1086.5 L639.0,1089.7 L640.0,1091.2 L641.0,1092.7 L643.0,1095.5 L645.0,1098.1 L647.0,1100.5 L649.0,1102.7 L650.0,1103.8 L651.0,1104.7 L653.0,1106.6 L655.0,1108.4 L657.0,1110.0 L659.0,1111.4 L660.0,1112.0 L661.0,1112.6 L663.0,1113.6 L665.0,1114.6 L667.0,1115.5 L669.0,1116.3 L671.0,1117.0 L672.5,1117.5 L673.0,1117.7 L675.0,1118.2 L677.0,1118.8 L679.0,1119.2 L681.0,1119.7 L683.0,1120.1 L685.0,1120.5 L687.0,1120.9 L689.0,1121.4 L691.0,1121.8 L693.0,1122.2 L695.0,1122.6 L697.0,1122.8 L699.0,1123.0 L700.0,1123.0 L701.0,1123.0 L703.0,1122.8 L705.0,1122.6 L707.0,1122.2 L709.0,1121.8 L711.0,1121.4 L713.0,1120.9 L715.0,1120.5 L717.0,1120.1 L719.0,1119.8 L721.0,1119.4 L723.0,1119.0 L725.0,1118.6 L727.0,1118.0 L729.0,1117.4 L730.0,1117.0 L731.0,1116.5 L733.0,1115.1 L735.0,1113.1 L737.0,1110.7 L737.5,1110.0 L739.0,1107.5 L741.0,1102.9 L743.0,1097.6 L745.0,1092.5 L747.0,1087.6 L749.0,1082.6 L751.0,1077.6 L753.0,1072.5 L755.0,1067.5 L757.0,1062.5 L759.0,1057.6 L761.0,1052.7 L763.0,1047.7 L765.0,1042.5 L767.0,1037.2 L769.0,1031.7 L771.0,1026.1 L773.0,1020.5 L775.0,1015.0 L777.0,1009.4 L779.0,1003.8 L781.0,998.2 L783.0,992.7 L785.0,987.5 L787.0,982.5 L789.0,977.6 L791.0,972.8 L793.0,968.2 L795.0,963.8 L797.0,959.4 L799.0,955.2 L801.0,951.2 L803.0,947.3 L805.0,943.8 L807.0,940.4 L809.0,937.2 L811.0,934.1 L813.0,931.2 L815.0,928.4 L817.0,925.7 L817.5,925.0 L819.0,923.0 L821.0,920.4 L823.0,917.9 L825.0,915.5 L827.0,913.2 L829.0,911.0 L830.0,910.0 L831.0,909.0 L833.0,907.0 L835.0,905.2 L837.0,903.4 L839.0,901.6 L841.0,900.0 L842.5,898.8 L843.0,898.3 L845.0,896.7 L847.0,895.1 L849.0,893.6 L851.0,892.1 L853.0,890.7 L855.0,889.5 L857.0,888.4 L859.0,887.4 L861.0,886.4 L863.0,885.5 L865.0,884.7 L867.0,883.9 L867.5,883.8 L869.0,883.3 L871.0,882.6 L873.0,882.0 L875.0,881.5 L877.0,881.0 L879.0,880.6 L880.0,880.5 L881.0,880.4 L883.0,880.1 L885.0,879.9 L887.0,879.7 L889.0,879.6 L891.0,879.5 L892.5,879.5 L893.0,879.5 L895.0,879.5 L897.0,879.7 L899.0,879.8 L901.0,880.0 L903.0,880.2 L905.0,880.5 L907.0,880.9 L909.0,881.6 L911.0,882.5 L913.0,883.4 L915.0,884.5 L917.0,885.7 L919.0,887.2 L921.0,888.8 L923.0,890.6 L925.0,892.5 L927.0,894.5 L929.0,896.7 L931.0,899.1 L933.0,901.6 L935.0,904.2 L937.0,906.8 L937.5,907.5 L939.0,909.6 L941.0,912.4 L943.0,915.5 L945.0,918.5 L947.0,921.7 L949.0,924.7 L950.0,926.2 L951.0,927.8 L953.0,930.8 L955.0,933.8 L957.0,936.8 L959.0,939.8 L961.0,942.8 L962.5,945.0 L963.0,945.8 L965.0,948.8 L967.0,951.9 L969.0,955.0 L971.0,958.0 L973.0,960.9 L975.0,963.8 L977.0,966.5 L979.0,969.2 L981.0,971.8 L983.0,974.3 L985.0,976.7 L987.0,979.0 L987.5,979.5 L989.0,981.1 L991.0,983.4 L993.0,985.5 L995.0,987.3 L997.0,988.6 L997.5,988.8 L999.0,989.2 L1001.0,989.6 L1003.0,989.9 L1005.0,990.2 L1007.0,990.5 L1009.0,990.9 L1010.0,991.2 L1011.0,991.7 L1013.0,993.2 L1015.0,995.1 L1017.0,997.2 L1019.0,999.2 L1020.0,1000.0 L1021.0,1000.7 L1023.0,1002.0 L1025.0,1003.3 L1027.0,1004.5 L1029.0,1005.7 L1031.0,1006.9 L1032.5,1008.0 L1033.0,1008.4 L1035.0,1009.9 L1037.0,1011.6 L1039.0,1013.4 L1041.0,1015.2 L1043.0,1017.0 L1045.0,1018.8 L1047.0,1020.5 L1049.0,1022.3 L1051.0,1024.1 L1053.0,1025.9 L1055.0,1027.7 L1057.0,1029.5 L1057.5,1030.0 L1059.0,1031.4 L1061.0,1033.2 L1063.0,1035.0 L1065.0,1036.8 L1067.0,1038.6 L1069.0,1040.4 L1070.0,1041.2 L1071.0,1042.1 L1073.0,1044.0 L1075.0,1046.0 L1077.0,1047.8 L1079.0,1049.3 L1081.0,1050.4 L1081.2,1050.5 L1083.0,1051.2 L1085.0,1051.8 L1087.0,1052.4 L1089.0,1052.8 L1091.0,1053.0 L1091.2,1053.0 L1093.0,1052.7 L1095.0,1052.0 L1097.0,1050.9 L1098.8,1050.0 L1099.0,1049.9 L1101.0,1048.4 L1103.0,1046.6 L1105.0,1045.0 L1106.2,1044.5 L1107.0,1044.3 L1109.0,1043.9 L1111.0,1043.6 L1113.0,1043.3 L1115.0,1043.1 L1117.0,1042.9 L1119.0,1042.6 L1120.0,1042.5 L1121.0,1042.3 L1123.0,1042.0 L1125.0,1041.8 L1127.0,1041.5 L1129.0,1041.1 L1131.0,1040.8 L1133.0,1040.4 L1135.0,1040.0 L1137.0,1039.5 L1139.0,1039.0 L1141.0,1038.4 L1143.0,1037.7 L1145.0,1037.0 L1147.0,1036.2 L1149.0,1035.4 L1150.0,1035.0 L1151.0,1034.6 L1153.0,1033.6 L1155.0,1032.6 L1157.0,1031.4 L1159.0,1030.2 L1161.0,1028.9 L1163.0,1027.6 L1165.0,1026.2 L1167.0,1024.8 L1169.0,1023.3 L1171.0,1021.7 L1173.0,1020.1 L1175.0,1018.3 L1177.0,1016.5 L1179.0,1014.7 L1180.0,1013.8 L1181.0,1012.8 L1183.0,1010.8 L1185.0,1008.7 L1187.0,1006.5 L1189.0,1004.3 L1191.0,1002.0 L1193.0,999.8 L1195.0,997.5 L1197.0,995.3 L1199.0,993.0 L1201.0,990.7 L1203.0,988.2 L1203.8,987.2 L1205.0,985.6 L1207.0,983.0 L1209.0,980.2 L1211.0,977.3 L1213.0,974.4 L1215.0,971.3 L1217.0,968.1 L1219.0,964.7 L1221.0,961.0 L1223.0,957.0 L1225.0,952.9 L1227.0,948.7 L1228.5,945.8 L1229.0,944.9 L1231.0,941.1 L1233.0,937.4 L1235.0,933.9 L1236.5,931.3 L1237.0,930.5 L1239.0,927.1 L1241.0,923.9 L1243.0,920.8 L1245.0,917.8 L1245.2,917.5 L1247.0,915.0 L1249.0,912.3 L1251.0,909.6 L1253.0,907.1 L1253.9,905.9 L1255.0,904.5 L1257.0,901.9 L1259.0,899.4 L1261.0,896.9 L1262.6,895.0 L1263.0,894.5 L1265.0,892.1 L1267.0,889.8 L1269.0,887.5 L1271.0,885.2 L1271.3,884.9 L1273.0,883.0 L1275.0,880.8 L1277.0,878.6 L1279.0,876.5 L1280.0,875.4 L1281.0,874.3 L1283.0,871.9 L1285.0,869.8 L1286.6,868.6 L1287.0,868.4 L1289.0,867.4 L1291.0,866.8 L1291.7,866.7 L1293.0,866.9 L1295.0,868.1 L1296.0,868.9 L1297.0,870.4 L1298.9,876.1 L1299.0,876.5 L1301.0,892.6 L1301.1,893.6 L1303.0,918.1 L1303.3,922.6 L1305.0,951.9 L1305.4,958.9 L1307.0,984.9 L1307.6,995.2 L1309.0,1022.2 L1309.1,1024.3 L1310.2,1049.0 L1311.0,1045.0 L1312.7,1024.3 L1313.0,1020.8 L1314.9,995.2 L1315.0,993.6 L1317.0,953.6 L1317.1,951.7 L1319.0,918.0 L1319.2,915.3 L1321.0,895.9 L1322.1,886.3 L1323.0,879.0 L1325.0,865.1 L1325.1,864.5 L1327.0,854.2 L1328.0,850.0 L1329.0,846.7 L1331.0,841.2 L1333.0,836.7 L1335.0,832.5 L1337.0,828.2 L1338.9,823.5 L1339.0,823.2 L1341.0,817.6 L1342.6,812.3 L1343.0,810.7 L1345.0,801.2 L1347.0,790.5 L1348.3,784.2 L1349.0,781.1 L1351.0,772.5 L1353.0,764.7 L1353.9,761.8 L1355.0,758.4 L1357.0,753.3 L1357.6,752.5 L1359.0,751.5 L1360.5,751.0 L1361.0,751.1 L1363.0,752.3 L1364.1,753.4 L1365.0,754.9 L1367.0,760.7 L1368.8,767.4 L1369.0,768.2 L1371.0,777.0 L1373.0,787.5 L1374.4,795.4 L1375.0,799.0 L1377.0,812.3 L1379.0,826.3 L1380.0,832.8 L1381.0,838.9 L1383.0,850.7 L1385.0,862.3 L1385.7,866.5 L1387.0,875.1 L1389.0,887.3 L1389.4,888.9 L1391.0,894.2 L1393.0,898.2 L1393.1,898.3 L1395.0,899.6 L1396.9,900.1 L1397.0,900.1 L1399.0,899.7 L1401.0,898.9 L1403.0,898.3 L1403.4,898.3 L1405.0,899.3 L1407.0,902.3 L1408.1,903.9 L1409.0,905.3 L1411.0,908.8 L1412.8,910.4 L1413.0,910.4 L1415.0,910.4 L1416.5,910.4 L1417.0,910.2 L1419.0,906.2 L1421.0,900.6 L1421.2,900.1 L1423.0,895.8 L1425.0,890.9 L1426.8,887.0 L1427.0,886.6 L1429.0,882.7 L1431.0,879.4 L1432.4,877.7 L1433.0,877.1 L1435.0,875.4 L1437.0,874.2 L1438.0,874.0 L1439.0,873.9 L1441.0,873.8 L1443.0,873.7 L1445.0,873.7 L1447.0,873.5 L1447.5,873.5 L1449.0,872.7 L1451.0,870.0 L1453.0,866.5 L1455.0,863.2 L1455.5,862.5 L1457.0,860.6 L1459.0,858.0 L1461.0,855.5 L1463.0,853.4 L1463.5,853.0 L1465.0,851.7 L1467.0,849.9 L1469.0,848.5 L1471.0,848.0 L1473.0,848.1 L1475.0,848.4 L1475.4,848.5 L1477.0,850.9 L1479.0,855.2 L1479.1,855.3 L1481.0,857.4 L1482.9,858.4 L1483.0,858.4 L1485.0,856.0 L1486.6,852.0 L1487.0,850.2 L1489.0,833.1 L1489.5,830.5 L1491.0,826.3 L1493.0,823.4 L1493.3,823.3 L1495.0,825.2 L1497.0,830.5 L1499.0,844.1 L1500.8,857.3 L1501.0,858.2 L1503.0,866.0 L1503.7,866.8 L1505.0,866.8 L1507.0,866.8 L1507.5,866.8 L1509.0,864.9 L1511.0,859.0 L1512.3,855.5 L1513.0,854.0 L1515.0,849.9 L1517.0,846.2 L1517.8,845.0 L1519.0,843.3 L1521.0,840.7 L1523.0,838.7 L1524.0,838.0 L1525.0,837.6 L1527.0,837.0 L1529.0,836.4 L1529.8,836.0 L1531.0,834.2 L1533.0,828.4 L1535.0,823.0 L1537.0,819.6 L1539.0,816.6 L1541.0,813.9 L1543.0,811.3 L1544.0,810.0 L1545.0,808.7 L1547.0,806.2 L1549.0,803.8 L1551.0,801.4 L1553.0,798.8 L1554.0,797.5 L1555.0,796.1 L1557.0,793.0 L1559.0,789.8 L1561.0,786.6 L1563.0,783.8 L1564.0,782.5 L1565.0,781.3 L1567.0,778.8 L1569.0,776.5 L1571.0,774.7 L1572.8,773.8 L1573.0,773.7 L1575.0,773.0 L1577.0,772.5 L1579.0,772.2 L1581.0,772.0 L1581.5,772.0 L1583.0,772.0 L1585.0,772.2 L1587.0,772.5 L1589.0,772.8 L1591.0,773.2 L1593.0,773.6 L1594.0,773.8 L1595.0,773.9 L1597.0,774.4 L1599.0,774.9 L1601.0,775.4 L1603.0,776.1 L1605.0,776.8 L1606.5,777.5 L1607.0,777.7 L1609.0,779.0 L1611.0,780.6 L1613.0,782.6 L1615.0,784.7 L1615.2,785.0 L1617.0,787.2 L1619.0,790.1 L1621.0,793.4 L1623.0,797.0 L1624.0,798.8 L1625.0,800.6 L1627.0,804.7 L1629.0,809.1 L1631.0,813.5 L1633.0,817.9 L1634.0,820.0 L1635.0,822.1 L1637.0,826.2 L1639.0,830.2 L1641.0,834.2 L1643.0,838.1 L1644.0,840.0 L1645.0,841.8 L1647.0,845.3 L1649.0,848.8 L1651.0,852.2 L1653.0,855.7 L1654.0,857.5 L1655.0,859.4 L1657.0,863.4 L1659.0,867.5 L1661.0,871.6 L1663.0,875.6 L1664.0,877.5 L1665.0,879.3 L1667.0,882.8 L1669.0,886.2 L1671.0,889.7 L1673.0,893.2 L1674.0,895.0 L1675.0,896.9 L1677.0,901.1 L1679.0,905.4 L1681.0,909.5 L1683.0,913.3 L1684.0,915.0 L1685.0,916.6 L1687.0,919.6 L1689.0,922.4 L1691.0,924.6 L1691.5,925.0 L1693.0,926.1 L1695.0,927.2 L1697.0,928.3 L1699.0,929.5 L1701.0,930.9 L1703.0,932.3 L1705.0,933.8 L1707.0,935.5 L1709.0,937.3 L1711.0,939.4 L1711.5,940.0 L1713.0,942.0 L1715.0,945.2 L1717.0,948.9 L1719.0,952.8 L1721.0,956.6 L1721.5,957.5 L1723.0,960.3 L1725.0,964.1 L1727.0,967.9 L1729.0,971.7 L1731.0,975.4 L1731.5,976.2 L1733.0,978.8 L1735.0,982.2 L1737.0,985.5 L1739.0,988.7 L1741.0,991.8 L1741.5,992.5 L1743.0,994.7 L1745.0,997.5 L1747.0,1000.1 L1749.0,1002.5 L1751.0,1005.1 L1753.0,1007.5 L1755.0,1008.7 L1755.2,1008.8 L1757.0,1007.8 L1759.0,1005.4 L1760.2,1003.8 L1761.0,1002.8 L1763.0,1000.1 L1765.0,997.1 L1767.0,993.8 L1767.8,992.5 L1769.0,990.0 L1771.0,985.3 L1773.0,981.3 L1774.0,980.0 L1775.0,979.2 L1777.0,978.2 L1779.0,977.2 L1780.2,976.2 L1781.0,975.3 L1783.0,970.9 L1785.0,966.1 L1786.5,963.8 L1787.0,963.3 L1789.0,962.2 L1791.0,961.2 L1792.8,960.0 L1793.0,959.8 L1795.0,956.6 L1797.0,952.2 L1799.0,947.5 L1801.0,943.2 L1803.0,938.2 L1804.0,935.0 L1805.0,929.9 L1807.0,917.3 L1807.8,915.0 L1809.0,913.5 L1811.0,912.5 L1813.0,923.6 L1813.5,927.5 L1815.0,941.0 L1816.0,952.0" stroke="#ff0000"/>
</g>
<g fill="#000" shape-rendering="crispEdges">
<rect x="107" y="46" width="1715" height="8"/>
<rect x="107" y="1307" width="1715" height="7"/>
<rect x="107" y="46" width="8" height="1290"/>
<rect x="1814" y="46" width="8" height="1290"/>
<rect x="214" y="1310" width="8" height="13"/>
<rect x="320" y="1310" width="8" height="26"/>
<rect x="427" y="1310" width="8" height="13"/>
<rect x="534" y="1310" width="8" height="26"/>
<rect x="640" y="1310" width="8" height="13"/>
<rect x="747" y="1310" width="8" height="26"/>
<rect x="854" y="1310" width="8" height="13"/>
<rect x="961" y="1310" width="8" height="26"/>
<rect x="1067" y="1310" width="8" height="13"/>
<rect x="1174" y="1310" width="8" height="26"/>
<rect x="1281" y="1310" width="8" height="13"/>
<rect x="1387" y="1310" width="8" height="26"/>
<rect x="1494" y="1310" width="8" height="13"/>
<rect x="1601" y="1310" width="8" height="26"/>
<rect x="1707" y="1310" width="8" height="13"/>
</g>
<line x1="1204" y1="48" x2="1204" y2="1168.75" stroke="#404040" stroke-width="8" stroke-dasharray="33.2 28.32" shape-rendering="crispEdges"/>
<g fill="#000" stroke="#000"><line x1="1476.7" y1="866.8" x2="1474.2" y2="878" stroke-width="1.8"/><polygon points="1465,875.5 1482.2,879.6 1467.6,908.9 1465,908.9" stroke="none"/></g>
<text class="tick" transform="translate(30.80,1414) scale(1,1.02)">2000</text>
<text class="tick" transform="translate(244.18,1414) scale(1,1.02)">1800</text>
<text class="tick" transform="translate(457.55,1414) scale(1,1.02)">1600</text>
<text class="tick" transform="translate(670.92,1414) scale(1,1.02)">1400</text>
<text class="tick" transform="translate(884.30,1414) scale(1,1.02)">1200</text>
<text class="tick" transform="translate(1097.67,1414) scale(1,1.02)">1000</text>
<text class="tick" transform="translate(1331.05,1414) scale(1,1.02)">800</text>
<text class="tick" transform="translate(1544.42,1414) scale(1,1.02)">600</text>
<text class="tick" transform="translate(1757.80,1414) scale(1,1.02)">400</text>
<text class="lab" transform="translate(129.30,323.00) scale(1.008,1.01)">HN</text>
<text class="lab" transform="translate(133.60,557.50) scale(1.008,1.01)">N</text>
<text class="lab" transform="translate(124.40,784.00) scale(1.008,1.01)">REF</text>
<text class="lab num" transform="translate(408.90,1025.00) scale(1,1.025)">1632</text>
<text class="lab num" transform="translate(648.10,1184.00) scale(1,1.025)">1440</text>
<text class="lab num" transform="translate(1049.60,1113.00) scale(1,1.025)">1078</text>
<text class="lab num" transform="translate(1168.90,1237.00) scale(1,1.025)">970</text>
<text class="lab num" transform="translate(1276.00,1118.00) scale(1,1.025)">875</text>
<text class="lab num" transform="translate(1446.00,958.00) scale(1,1.025)">712</text>
<text class="lab num" transform="translate(1520.70,901.00) scale(1,1.025)">690</text>
<text class="lab num" transform="translate(1704.30,1066.00) scale(1,1.025)">458</text>
</svg></body></html>
